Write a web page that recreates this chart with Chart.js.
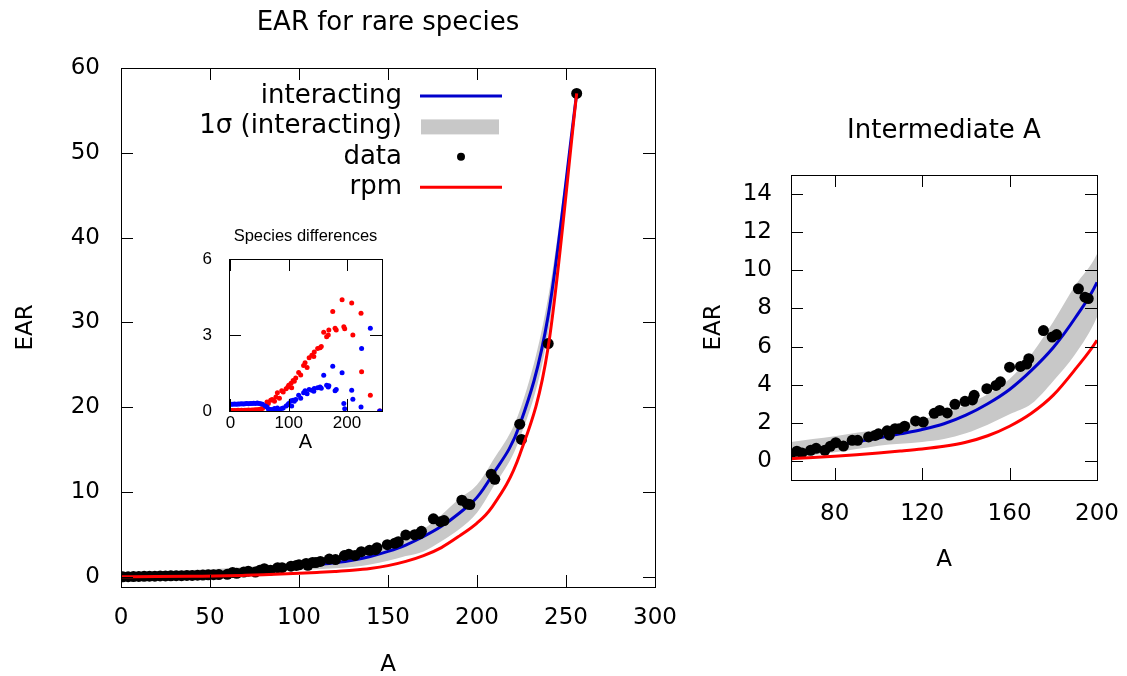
<!DOCTYPE html>
<html>
<head>
<meta charset="utf-8">
<script src="https://cdn.jsdelivr.net/npm/chart.js@4.4.1/dist/chart.umd.min.js"></script>
<style>
  body { margin: 0; background: #fff; }
  #wrap { position: relative; width: 1127px; height: 676px; }
  canvas { position: absolute; }
</style>
</head>
<body>
<div id="wrap">
  <canvas id="main" width="700" height="676" style="left:0;top:0"></canvas>
  <canvas id="inset" width="240" height="240" style="left:160px;top:215px"></canvas>
  <canvas id="zoom" width="427" height="676" style="left:700px;top:0"></canvas>
</div>
<script>
// model curves (sampled in A)
var curveA = [0, 20, 40, 60, 70, 80, 90, 100, 110, 120, 130, 140, 150, 160, 170, 180, 190, 200, 208, 224, 240, 256]
var blueEAR = [0.1, 0.18, 0.28, 0.42, 0.6, 0.8, 1.0, 1.2, 1.42, 1.65, 1.95, 2.4, 3.0, 3.75, 4.75, 5.95, 7.5, 9.37, 11.8, 17.9, 30.8, 57.0]
var redEAR = [0.0, 0.03, 0.07, 0.12, 0.18, 0.25, 0.33, 0.42, 0.52, 0.63, 0.77, 0.98, 1.32, 1.82, 2.5, 3.45, 4.8, 6.33, 8.1, 14.4, 27.1, 57.0]
var bandHi = [0.55, 0.65, 0.8, 1.0, 1.15, 1.3, 1.48, 1.65, 1.9, 2.2, 2.45, 2.95, 3.5, 4.3, 5.6, 7.3, 9.2, 10.86, 13.4, 19.6, 33.0, 57.3]
var bandLo = [0.0, 0.02, 0.06, 0.12, 0.3, 0.45, 0.62, 0.8, 0.9, 1.0, 1.15, 1.45, 1.9, 2.45, 3.0, 4.2, 5.6, 7.55, 10.2, 16.3, 28.8, 56.7]

// observed points
var dataA = [1, 4, 7, 10, 13, 16, 19, 22, 25, 28, 31, 34, 37, 40, 43, 46, 49, 52, 55,
  59.7, 62.7, 65, 69, 71.5, 75.5, 78, 80.5, 84, 88, 90.5, 95.5, 98.5, 100, 104, 105, 107.6, 109.5, 112, 117,
  120.5, 125.5, 128, 131.5, 135, 139.6, 143, 143.8, 149.6, 153.8, 155.8, 160, 165, 167.8, 168.8, 175.5,
  179.5, 181.5, 191.5, 194.5, 196, 208, 210, 224, 225, 240, 256]
var dataEAR = [0.0, 0.02, 0.03, 0.05, 0.06, 0.07, 0.08, 0.1, 0.11, 0.12, 0.13, 0.14, 0.16, 0.17, 0.19, 0.21, 0.23, 0.25, 0.27,
  0.30, 0.51, 0.42, 0.56, 0.66, 0.56, 0.77, 0.96, 0.78, 1.08, 1.08, 1.26, 1.34, 1.42, 1.58, 1.36, 1.69, 1.69, 1.82, 2.1,
  2.04, 2.5, 2.65, 2.52, 2.97, 3.13, 3.2, 3.44, 3.79, 3.96, 4.15, 4.92, 4.96, 5.08, 5.36, 6.84,
  6.5, 6.63, 9.03, 8.59, 8.52, 12.1, 11.5, 18.0, 16.2, 27.5, 57.0]

// inset: species differences at the same A
var diffRpm = [0.02, 0.02, 0.02, 0.02, 0.03, 0.02, 0.03, 0.02, 0.03, 0.03, 0.04, 0.03, 0.04, 0.04, 0.05, 0.05, 0.06, 0.08, 0.1,
  0.2, 0.36, 0.3, 0.42, 0.45, 0.38, 0.55, 0.72, 0.5, 0.8, 0.75, 0.88, 0.95, 1.02, 1.1, 0.92, 1.2, 1.17, 1.3, 1.52,
  1.42, 1.8, 1.9, 1.72, 2.1, 2.2, 2.15, 2.33, 2.47, 2.5, 2.55, 3.11, 2.93, 3.0, 3.2, 3.93,
  3.27, 3.2, 4.39, 3.33, 3.25, 4.26, 3.0, 3.86, 1.55, 0.62, 0.0]
var diffInt = [0.27, 0.27, 0.28, 0.27, 0.28, 0.28, 0.29, 0.28, 0.29, 0.3, 0.29, 0.3, 0.3, 0.31, 0.3, 0.32, 0.3, 0.29, 0.27,
  0.2, 0.16, 0.08, 0.06, 0.05, 0.1, 0.03, 0.12, 0.05, 0.1, 0.12, 0.2, 0.25, 0.3, 0.4, 0.2, 0.42, 0.38, 0.45, 0.62,
  0.5, 0.72, 0.8, 0.68, 0.85, 0.82, 0.78, 0.89, 0.92, 0.95, 0.9, 1.41, 1.02, 0.95, 1.0, 1.77,
  0.8, 0.85, 1.51, 0.3, 0.09, 0.82, 0.46, 0.16, 2.47, 3.27, 0.0]

// tick values
var mainXTicks = [0, 50, 100, 150, 200, 250, 300]
var mainYTicks = [0, 10, 20, 30, 40, 50, 60]
var zoomXTicks = [80, 120, 160, 200]
var zoomYTicks = [0, 2, 4, 6, 8, 10, 12, 14]
var insetXTicks = [0, 100, 200]
var insetYTicks = [0, 3, 6]

var FONT = 'DejaVu Sans'
var BLUE = '#0000cc'
var RED = '#ff0000'
var GREY = '#c8c8c8'

Chart.defaults.font.family = FONT
Chart.defaults.color = '#000'

function pts(xs, ys) {
  return xs.map(function (x, i) { return { x: x, y: ys[i] } })
}

// border box plus inward ticks on all four sides (gnuplot look)
var boxTicks = {
  id: 'boxTicks',
  afterDatasetsDraw: function (chart, args, opts) {
    var ctx = chart.ctx, a = chart.chartArea
    var xs = chart.scales.x, ys = chart.scales.y
    var len = opts.len || 12
    ctx.save()
    ctx.strokeStyle = '#000'
    ctx.lineWidth = 1
    ctx.beginPath()
    xs.ticks.forEach(function (t) {
      var p = Math.round(xs.getPixelForValue(t.value)) + 0.5
      ctx.moveTo(p, a.bottom); ctx.lineTo(p, a.bottom - len)
      ctx.moveTo(p, a.top); ctx.lineTo(p, a.top + len)
    })
    ys.ticks.forEach(function (t) {
      var p = Math.round(ys.getPixelForValue(t.value)) + 0.5
      ctx.moveTo(a.left, p); ctx.lineTo(a.left + len, p)
      ctx.moveTo(a.right, p); ctx.lineTo(a.right - len, p)
    })
    ctx.stroke()
    ctx.strokeRect(Math.round(a.left) + 0.5, Math.round(a.top) + 0.5, Math.round(a.width), Math.round(a.height))
    // title centred over the plot box
    if (opts.title) {
      ctx.fillStyle = '#000'
      ctx.font = opts.tsize + 'px "' + (opts.family || FONT) + '"'
      ctx.textAlign = 'center'
      ctx.textBaseline = 'middle'
      ctx.fillText(opts.title, (a.left + a.right) / 2, opts.ty)
    }
    ctx.restore()
  }
}

// key inside the main plot: text on the left, sample on the right
var keyBox = {
  id: 'keyBox',
  afterDraw: function (chart, args, opts) {
    var ctx = chart.ctx
    ctx.save()
    ctx.font = opts.size + 'px "' + FONT + '"'
    ctx.textAlign = 'right'
    ctx.textBaseline = 'middle'
    opts.items.forEach(function (it, i) {
      var ds = chart.data.datasets[it.ds]
      var y = opts.y + i * opts.step
      ctx.fillStyle = '#000'
      ctx.fillText(ds.label, opts.x, y)
      var x0 = opts.x + 18, x1 = x0 + 82
      if (it.kind == 'line') {
        ctx.strokeStyle = ds.borderColor
        ctx.lineWidth = ds.borderWidth
        ctx.beginPath(); ctx.moveTo(x0, y); ctx.lineTo(x1, y); ctx.stroke()
      } else if (it.kind == 'box') {
        ctx.fillStyle = ds.backgroundColor
        ctx.fillRect(x0 + 1, y - 7, 78, 15)
      } else {
        ctx.fillStyle = ds.backgroundColor
        ctx.beginPath(); ctx.arc((x0 + x1) / 2, y, 4, 0, Math.PI * 2); ctx.fill()
      }
    })
    ctx.restore()
  }
}

function curveSets(dotR) {
  var line = { showLine: true, pointRadius: 0, borderWidth: 3, cubicInterpolationMode: 'monotone', fill: false }
  return [
    Object.assign({ label: 'rpm', data: pts(curveA, redEAR), borderColor: RED }, line),
    { label: 'data', data: pts(dataA, dataEAR), pointRadius: dotR, backgroundColor: '#000', borderWidth: 0 },
    Object.assign({ label: 'interacting', data: pts(curveA, blueEAR), borderColor: BLUE }, line),
    { label: '1σ (interacting)', data: pts(curveA, bandHi), showLine: true, pointRadius: 0, borderWidth: 1,
      borderColor: 'rgba(0,0,0,0)', backgroundColor: GREY, fill: '+1', cubicInterpolationMode: 'monotone' },
    { label: 'band low', data: pts(curveA, bandLo), showLine: true, pointRadius: 0, borderWidth: 1,
      borderColor: 'rgba(0,0,0,0)', fill: false, cubicInterpolationMode: 'monotone' }
  ]
}

function scale(min, max, tickVals, o) {
  var s = {
    type: 'linear', min: min, max: max,
    grid: { display: false, drawTicks: false },
    border: { display: false },
    ticks: { autoSkip: false, maxRotation: 0, padding: o.pad, font: { size: o.size, family: o.family || FONT } },
    afterBuildTicks: function (sc) { sc.ticks = tickVals.map(function (v) { return { value: v } }) },
    afterFit: function (sc) {
      if (o.w) sc.width = o.w
      if (o.h) sc.height = o.h
      sc.paddingLeft = 0; sc.paddingRight = 0; sc.paddingTop = 0; sc.paddingBottom = 0
    }
  }
  if (o.title) {
    s.title = { display: true, text: o.title, font: { size: o.tsize, family: o.family || FONT }, padding: o.tpad }
  }
  return s
}

var quiet = { legend: { display: false }, tooltip: { enabled: false } }

// main panel
new Chart(document.getElementById('main'), {
  type: 'scatter',
  data: { datasets: curveSets(5.5) },
  options: {
    responsive: false, animation: false, events: [],
    layout: { padding: { left: 0, right: 45, top: 68, bottom: 0 } },
    scales: {
      x: scale(0, 300, mainXTicks, { pad: 17.5, size: 23, h: 89, title: 'A', tsize: 23, tpad: { bottom: -3 } }),
      y: scale(-1.2, 60, mainYTicks, { pad: 21, size: 23, w: 121, title: 'EAR', tsize: 23, tpad: { top: 12 } })
    },
    plugins: Object.assign({
      boxTicks: { len: 12, title: 'EAR for rare species', tsize: 26, ty: 23 },
      keyBox: { x: 402, y: 96, step: 30.4, size: 26,
        items: [{ ds: 2, kind: 'line' }, { ds: 3, kind: 'box' }, { ds: 1, kind: 'dot' }, { ds: 0, kind: 'line' }] }
    }, quiet)
  },
  plugins: [boxTicks, keyBox]
})

// inset: species differences
new Chart(document.getElementById('inset'), {
  type: 'scatter',
  data: {
    datasets: [
      { label: 'interacting', data: pts(dataA, diffInt), pointRadius: 2.5, backgroundColor: '#0000ff', borderWidth: 0 },
      { label: 'rpm', data: pts(dataA, diffRpm), pointRadius: 2.5, backgroundColor: '#ff0000', borderWidth: 0 }
    ]
  },
  options: {
    responsive: false, animation: false, events: [],
    layout: { padding: { left: 0, right: 18, top: 44, bottom: 0 } },
    scales: {
      x: scale(-2.5, 260, insetXTicks, { pad: 2, size: 17, h: 44, family: 'Liberation Sans', title: 'A', tsize: 20, tpad: { bottom: 1 } }),
      y: scale(0, 6, insetYTicks, { pad: 17, size: 17, w: 69, family: 'Liberation Sans' })
    },
    plugins: Object.assign({
      boxTicks: { len: 12, title: 'Species differences', tsize: 16.5, ty: 21.5, family: 'Liberation Sans' }
    }, quiet)
  },
  plugins: [boxTicks]
})

// right panel: intermediate A
new Chart(document.getElementById('zoom'), {
  type: 'scatter',
  data: { datasets: curveSets(5.5) },
  options: {
    responsive: false, animation: false, events: [],
    layout: { padding: { left: 0, right: 30, top: 175, bottom: 0 } },
    scales: {
      x: scale(60, 200, zoomXTicks, { pad: 20.5, size: 23, h: 196, title: 'A', tsize: 23, tpad: { bottom: 102 } }),
      y: scale(-1, 15, zoomYTicks, { pad: 19, size: 23, w: 91, title: 'EAR', tsize: 23, tpad: { top: 0 } })
    },
    plugins: Object.assign({
      boxTicks: { len: 12, title: 'Intermediate A', tsize: 26, ty: 131 }
    }, quiet)
  },
  plugins: [boxTicks]
})
</script>
</body>
</html>
